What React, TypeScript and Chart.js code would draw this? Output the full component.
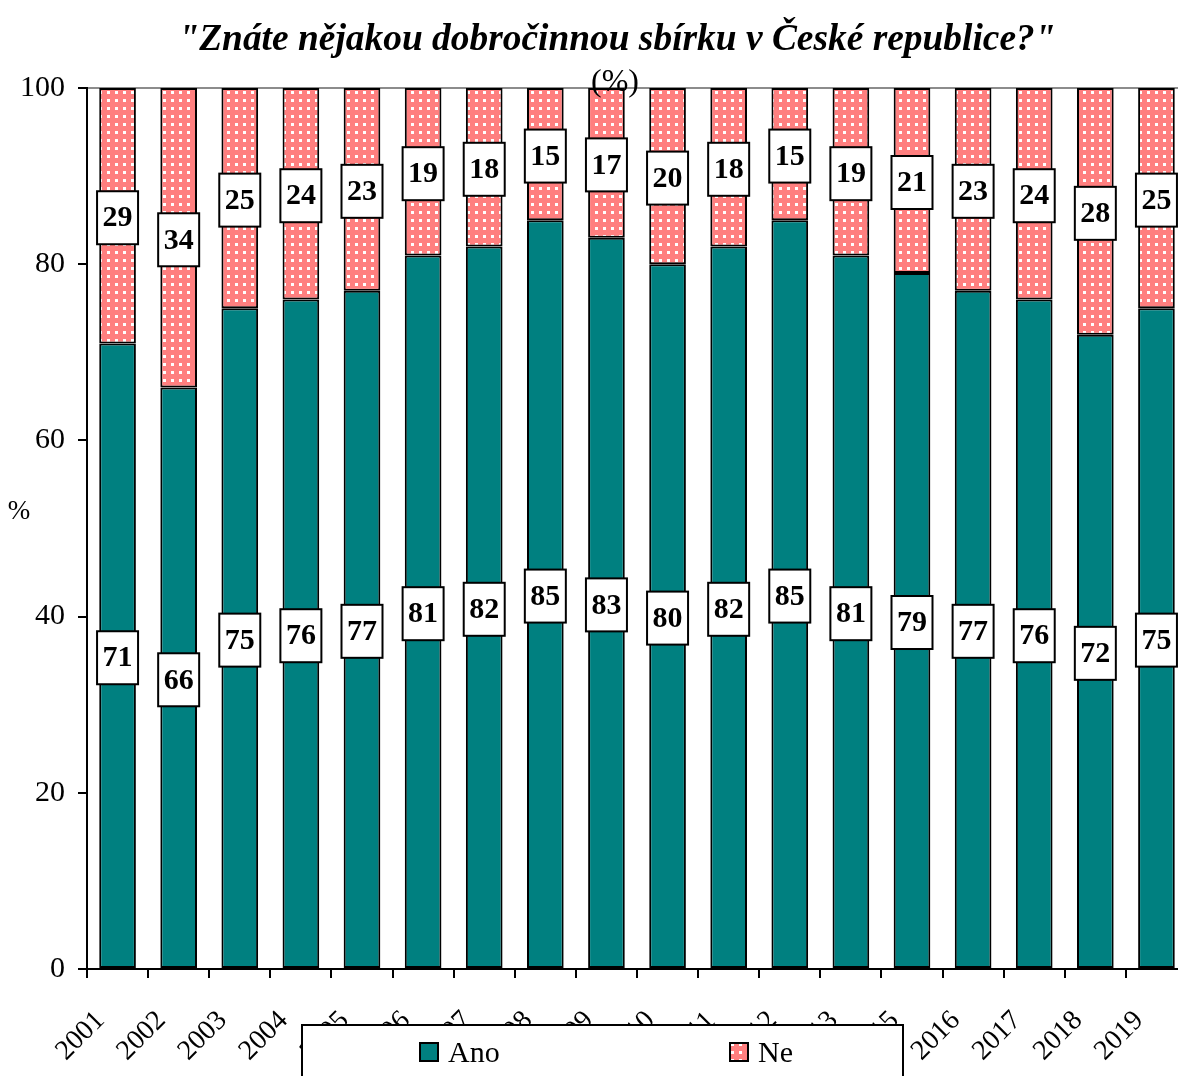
import React, { useEffect, useRef } from "react";
import { Chart, registerables } from "chart.js";

Chart.register(...registerables);

const years = [
  "2001", "2002", "2003", "2004", "2005", "2006", "2007", "2008", "2009",
  "2010", "2011", "2012", "2013", "2015", "2016", "2017", "2018", "2019",
];
const anoValues = [71, 66, 75, 76, 77, 81, 82, 85, 83, 80, 82, 85, 81, 79, 77, 76, 72, 75];
const neValues = [29, 34, 25, 24, 23, 19, 18, 15, 17, 20, 18, 15, 19, 21, 23, 24, 28, 25];
const yTicks = [0, 20, 40, 60, 80, 100];
const seriesNames = ["Ano", "Ne"];
const titleText = "\"Znáte nějakou dobročinnou sbírku v České republice?\"";
const subtitleText = "(%)";
const yAxisText = "%";

const TEAL = "#008080";
const PINK = "#FF7F7F";
const SERIF = '"Liberation Serif", "Times New Roman", serif';

function makePattern(): CanvasPattern | string {
  const c = document.createElement("canvas");
  c.width = 8;
  c.height = 8;
  const g = c.getContext("2d");
  if (!g) return PINK;
  g.fillStyle = PINK;
  g.fillRect(0, 0, 8, 8);
  g.fillStyle = "#ffffff";
  g.fillRect(3, 3, 3, 3);
  const p = g.createPattern(c, "repeat");
  return p || PINK;
}

const overlayPlugin = {
  id: "overlayPlugin",
  afterDatasetsDraw(chart: any) {
    const ctx = chart.ctx as CanvasRenderingContext2D;
    chart.data.datasets.forEach((ds: any, di: number) => {
      const meta = chart.getDatasetMeta(di);
      meta.data.forEach((el: any, i: number) => {
        const p = el.getProps(["x", "y", "base"], true);
        const cy = (p.y + p.base) / 2 + 2;
        const w = 41;
        const h = 53;
        ctx.save();
        ctx.fillStyle = "#ffffff";
        ctx.fillRect(p.x - w / 2, cy - h / 2, w, h);
        ctx.lineWidth = 2;
        ctx.strokeStyle = "#000000";
        ctx.strokeRect(p.x - w / 2, cy - h / 2, w, h);
        ctx.fillStyle = "#000000";
        ctx.font = `bold 30px ${SERIF}`;
        ctx.textAlign = "center";
        ctx.textBaseline = "middle";
        ctx.fillText(String(ds.data[i]), p.x, cy + 1);
        ctx.restore();
      });
    });
  },
  afterDraw(chart: any) {
    const ctx = chart.ctx as CanvasRenderingContext2D;
    const xScale = chart.scales.x;
    const area = chart.chartArea;

    // Title (slightly condensed like the original)
    ctx.save();
    ctx.fillStyle = "#000000";
    ctx.font = `italic bold 37px ${SERIF}`;
    ctx.textAlign = "center";
    ctx.textBaseline = "middle";
    const tw = ctx.measureText(titleText).width;
    const target = 877;
    const sx = target / tw;
    ctx.translate(617, 40);
    ctx.scale(sx, 1);
    ctx.fillText(titleText, 0, 0);
    ctx.restore();

    // Subtitle
    ctx.save();
    ctx.fillStyle = "#000000";
    ctx.font = `32px ${SERIF}`;
    ctx.textAlign = "center";
    ctx.textBaseline = "middle";
    ctx.fillText(subtitleText, 615, 83);
    ctx.restore();

    // Y-axis title
    ctx.save();
    ctx.fillStyle = "#000000";
    ctx.font = `27px ${SERIF}`;
    ctx.textAlign = "center";
    ctx.textBaseline = "middle";
    ctx.fillText(yAxisText, 19, 512);
    ctx.restore();

    // X labels (rotated 45deg)
    ctx.save();
    ctx.fillStyle = "#000000";
    ctx.font = `28px ${SERIF}`;
    ctx.textAlign = "center";
    ctx.textBaseline = "middle";
    chart.data.labels.forEach((lab: string, i: number) => {
      const x = xScale.getPixelForValue(i) - 37;
      const y = area.bottom + 67;
      ctx.save();
      ctx.translate(x, y);
      ctx.rotate(-Math.PI / 4);
      ctx.fillText(lab, 0, 0);
      ctx.restore();
    });
    ctx.restore();

    // Legend box
    ctx.save();
    ctx.fillStyle = "#ffffff";
    ctx.fillRect(302, 1025, 601, 80);
    ctx.lineWidth = 2;
    ctx.strokeStyle = "#000000";
    ctx.strokeRect(302, 1025, 601, 80);
    const items = [
      { x: 420, ds: chart.data.datasets[0] },
      { x: 730, ds: chart.data.datasets[1] },
    ];
    items.forEach((it) => {
      ctx.fillStyle = it.ds.backgroundColor;
      ctx.fillRect(it.x, 1043, 18, 18);
      ctx.lineWidth = 2;
      ctx.strokeStyle = "#000000";
      ctx.strokeRect(it.x, 1043, 18, 18);
      ctx.fillStyle = "#000000";
      ctx.font = `30px ${SERIF}`;
      ctx.textAlign = "left";
      ctx.textBaseline = "middle";
      ctx.fillText(it.ds.label, it.x + 28, 1054);
    });
    ctx.restore();
  },
};

export default function App() {
  const ref = useRef<HTMLCanvasElement | null>(null);

  useEffect(() => {
    document.body.style.margin = "0";
    const canvas = ref.current;
    if (!canvas) return;
    const pattern = makePattern();
    const chart = new Chart(canvas, {
      type: "bar",
      data: {
        labels: years,
        datasets: [
          {
            label: seriesNames[0],
            data: anoValues,
            backgroundColor: TEAL,
            borderColor: "#000000",
            borderWidth: 2,
            borderSkipped: false,
            barPercentage: 0.6,
            categoryPercentage: 1,
          },
          {
            label: seriesNames[1],
            data: neValues,
            backgroundColor: pattern as any,
            borderColor: "#000000",
            borderWidth: 2,
            borderSkipped: false,
            barPercentage: 0.6,
            categoryPercentage: 1,
          },
        ],
      },
      options: {
        responsive: false,
        animation: false,
        devicePixelRatio: 1,
        layout: { padding: { left: 7, right: 13, top: 88, bottom: 98 } },
        plugins: {
          legend: { display: false },
          title: { display: false },
          tooltip: { enabled: false },
        },
        scales: {
          x: {
            stacked: true,
            grid: {
              offset: true,
              drawOnChartArea: false,
              drawTicks: true,
              tickLength: 9,
              tickColor: "#000000",
              lineWidth: 2,
            },
            border: { display: true, color: "#000000", width: 2 },
            ticks: { display: false },
          },
          y: {
            stacked: true,
            min: 0,
            max: 100,
            afterBuildTicks: (scale: any) => {
              scale.ticks = yTicks.map((v) => ({ value: v }));
            },
            grid: {
              drawOnChartArea: true,
              drawTicks: true,
              tickLength: 9,
              tickColor: "#000000",
              lineWidth: 2,
              color: (c: any) => (c.tick && c.tick.value === 100 ? "#8c8c8c" : "rgba(0,0,0,0)"),
            },
            border: { display: true, color: "#000000", width: 2 },
            ticks: {
              color: "#000000",
              padding: 13,
              font: { family: SERIF, size: 30 },
            },
          },
        },
      },
      plugins: [overlayPlugin],
    });
    return () => chart.destroy();
  }, []);

  return (
    <div style={{ width: 1178, height: 1076, overflow: "hidden", position: "relative" }}>
      <canvas ref={ref} width={1200} height={1076} style={{ display: "block" }} />
    </div>
  );
}
